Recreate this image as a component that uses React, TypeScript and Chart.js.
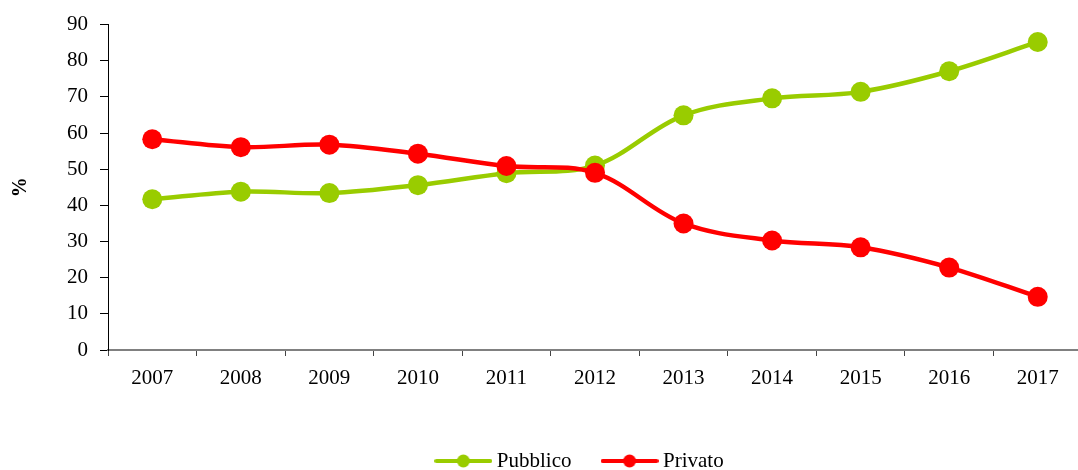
import React, { useEffect, useRef } from "react";
import { Chart, registerables } from "chart.js";

Chart.register(...registerables);

const years = ["2007", "2008", "2009", "2010", "2011", "2012", "2013", "2014", "2015", "2016", "2017"];
const pubblico = [41.7, 43.8, 43.4, 45.6, 48.9, 51.0, 64.9, 69.6, 71.4, 77.1, 85.2];
const privato = [58.3, 56.1, 56.8, 54.3, 50.9, 49.0, 35.0, 30.3, 28.4, 22.8, 14.7];
const seriesNames = ["Pubblico", "Privato"];
const GREEN = "#99CC00";
const RED = "#FF0000";
const FONT = "'Liberation Serif', 'Times New Roman', serif";
const FS = 21;
const LEG_PAD = 35;

function makeIcon(color: string): HTMLCanvasElement {
  const c = document.createElement("canvas");
  c.width = 58;
  c.height = 14;
  const ctx = c.getContext("2d")!;
  ctx.strokeStyle = color;
  ctx.fillStyle = color;
  ctx.lineWidth = 4;
  ctx.lineCap = "round";
  ctx.beginPath();
  ctx.moveTo(2, 7);
  ctx.lineTo(56, 7);
  ctx.stroke();
  ctx.beginPath();
  ctx.arc(29, 7, 6.5, 0, Math.PI * 2);
  ctx.fill();
  return c;
}

const legendShift = {
  id: "legendShift",
  afterLayout(chart: any) {
    const lg = chart.legend;
    if (!lg) return;
    const dx = 37;
    const dy = 461 - (lg.top + LEG_PAD + FS / 2);
    lg.left += dx;
    lg.right += dx;
    lg.top += dy;
    lg.bottom += dy;
  },
};

export default function App() {
  const ref = useRef<HTMLCanvasElement>(null);
  useEffect(() => {
    if (!ref.current) return;
    const icons = [makeIcon(GREEN), makeIcon(RED)];
    const chart = new Chart(ref.current, {
      type: "line",
      plugins: [legendShift],
      data: {
        labels: years,
        datasets: [
          {
            label: seriesNames[1],
            data: privato,
            borderColor: RED,
            backgroundColor: RED,
            pointBackgroundColor: RED,
            pointBorderWidth: 0,
            pointRadius: 10,
            borderWidth: 4.5,
            tension: 0.35,
          },
          {
            label: seriesNames[0],
            data: pubblico,
            borderColor: GREEN,
            backgroundColor: GREEN,
            pointBackgroundColor: GREEN,
            pointBorderWidth: 0,
            pointRadius: 10,
            borderWidth: 4.5,
            tension: 0.35,
          },
        ],
      },
      options: {
        responsive: false,
        animation: false,
        layout: { padding: { left: 0, right: 2, top: 14, bottom: 0 } },
        font: { family: FONT },
        plugins: {
          tooltip: { enabled: false },
          legend: {
            position: "bottom",
            labels: {
              font: { family: FONT, size: FS },
              color: "#000",
              usePointStyle: true,
              pointStyleWidth: 46,
              padding: LEG_PAD,
              generateLabels: () =>
                [1, 0].map((di, k) => ({
                  text: seriesNames[k],
                  datasetIndex: di,
                  pointStyle: icons[k],
                  fillStyle: k === 0 ? GREEN : RED,
                  strokeStyle: k === 0 ? GREEN : RED,
                  lineWidth: 0,
                  hidden: false,
                  fontColor: "#000",
                })),
            },
          },
        },
        scales: {
          x: {
            type: "category",
            offset: true,
            afterFit: (s: any) => {
              const lh = s.chart.legend ? s.chart.legend.height : 0;
              s.height = 470 - 350 - lh;
            },
            grid: {
              display: true,
              drawOnChartArea: false,
              offset: true,
              tickLength: 6,
              color: "#444",
              lineWidth: 1,
            },
            border: { display: true, color: "#808080", width: 2 },
            ticks: {
              font: { family: FONT, size: FS },
              color: "#000",
              padding: 10,
              maxRotation: 0,
            },
          },
          y: {
            min: 0,
            max: 90,
            afterFit: (s: any) => {
              s.width = 108;
            },
            ticks: {
              stepSize: 10,
              font: { family: FONT, size: FS },
              color: "#000",
              padding: 12,
            },
            grid: {
              display: true,
              drawOnChartArea: false,
              tickLength: 8,
              color: "#000",
              lineWidth: 1,
            },
            border: { display: true, color: "#000", width: 1 },
            title: {
              display: true,
              text: "%",
              font: { family: FONT, size: 20, weight: "bold" },
              color: "#000",
              padding: { top: 9, bottom: 0 },
            },
          },
        },
      },
    });
    return () => chart.destroy();
  }, []);
  return (
    <div style={{ position: "fixed", left: 0, top: 0, width: 1078, height: 470, overflow: "hidden", background: "#fff" }}>
      <div style={{ position: "absolute", left: 0, top: 0, width: 1092, height: 470 }}>
        <canvas ref={ref} width={1092} height={470} style={{ display: "block" }} />
      </div>
    </div>
  );
}
